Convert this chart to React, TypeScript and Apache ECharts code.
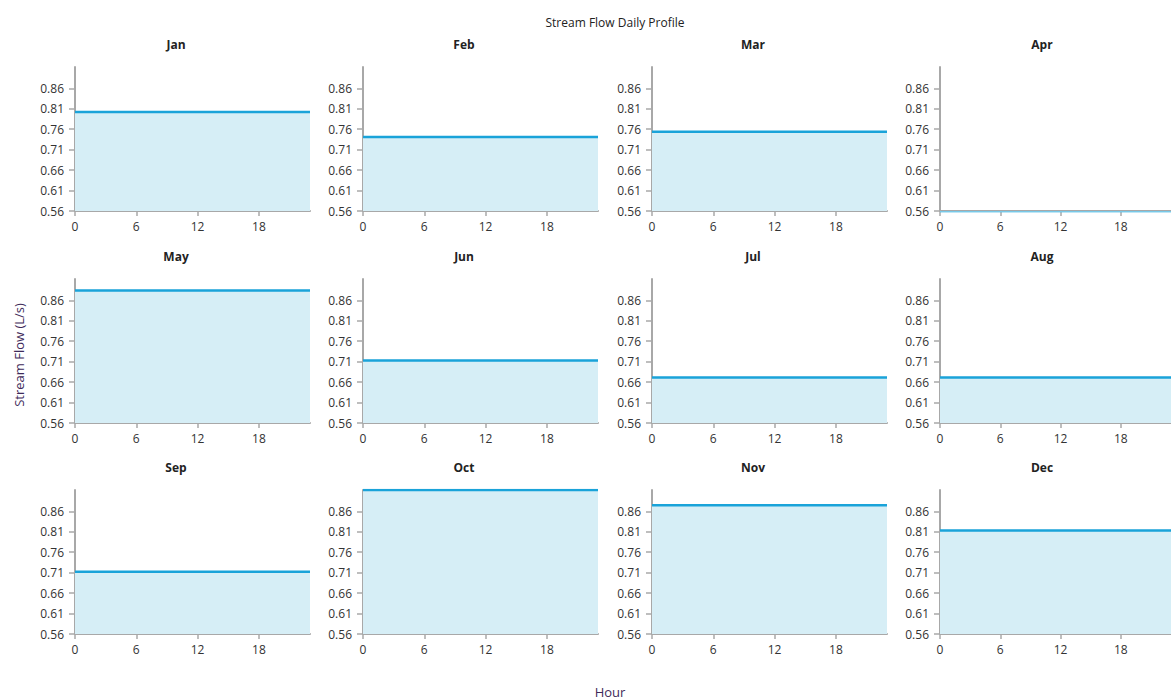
import React, { useEffect, useRef } from "react";
import * as echarts from "echarts";

const months = ["Jan", "Feb", "Mar", "Apr", "May", "Jun", "Jul", "Aug", "Sep", "Oct", "Nov", "Dec"];
const monthlyFlow = [0.802, 0.741, 0.754, 0.556, 0.884, 0.713, 0.671, 0.671, 0.712, 0.912, 0.875, 0.813];
const hours = [0, 1, 2, 3, 4, 5, 6, 7, 8, 9, 10, 11, 12, 13, 14, 15, 16, 17, 18, 19, 20, 21, 22, 23];
const yTicks = [0.56, 0.61, 0.66, 0.71, 0.76, 0.81, 0.86];
const xTicks = [0, 6, 12, 18];
const yMin = 0.56;
const yMax = 0.912;

const FONT = "'Segoe UI', 'Open Sans', 'Noto Sans', sans-serif";
const colLefts = [75, 363, 652, 940];
const rowTops = [67, 279, 490];
const gridW = 235;
const gridH = 144;
const titleCenters = [176, 464, 753, 1042];

export default function App() {
  const ref = useRef<HTMLDivElement>(null);
  useEffect(() => {
    if (!ref.current) return;
    const chart = echarts.init(ref.current, undefined, { renderer: "svg" });
    const grids: any[] = [];
    const xAxes: any[] = [];
    const yAxes: any[] = [];
    const series: any[] = [];
    months.forEach((m, i) => {
      const r = Math.floor(i / 4);
      const c = i % 4;
      grids.push({ left: colLefts[c], top: rowTops[r], width: gridW, height: gridH, containLabel: false });
      xAxes.push({
        type: "value",
        gridIndex: i,
        min: 0,
        max: 23,
        axisLine: { show: true, onZero: false, lineStyle: { color: "#a8a8a8", width: 2 } },
        axisTick: { show: true, length: 5, customValues: xTicks, lineStyle: { color: "#a8a8a8", width: 1.5 } },
        axisLabel: { customValues: xTicks, color: "#333", fontSize: 12, fontFamily: FONT, margin: 9 },
        splitLine: { show: false },
      });
      yAxes.push({
        type: "value",
        gridIndex: i,
        min: yMin,
        max: yMax,
        axisLine: { show: true, lineStyle: { color: "#a8a8a8", width: 2 } },
        axisTick: { show: true, length: 6, customValues: yTicks, lineStyle: { color: "#a8a8a8", width: 1.5 } },
        axisLabel: {
          customValues: yTicks,
          color: "#333",
          fontSize: 12,
          fontFamily: FONT,
          margin: 11,
          formatter: (v: number) => v.toFixed(2),
        },
        splitLine: { show: false },
      });
      series.push({
        type: "line",
        xAxisIndex: i,
        yAxisIndex: i,
        data: hours.map((h) => [h, monthlyFlow[i]]),
        symbol: "none",
        lineStyle: { color: "#1aa3d9", width: 2.5 },
        areaStyle: { color: "#d6eef6", opacity: 1, origin: "start" },
        clip: true,
      });
    });
    chart.setOption({
      animation: false,
      backgroundColor: "#fff",
      title: {
        text: "Stream Flow Daily Profile",
        left: 610,
        top: 11,
        textAlign: "center",
        textStyle: { fontSize: 12, fontWeight: "normal", color: "#222", fontFamily: FONT },
      },
      grid: grids,
      xAxis: xAxes,
      yAxis: yAxes,
      series,
      graphic: [
        ...months.map((m, i) => ({
          type: "text",
          x: titleCenters[i % 4],
          y: rowTops[Math.floor(i / 4)] - 29,
          style: { text: m, font: `bold 12px ${FONT}`, fill: "#222", align: "center" },
        })),
        {
          type: "text",
          x: 19,
          y: 355,
          rotation: Math.PI / 2,
          style: { text: "Stream Flow (L/s)", font: `13px ${FONT}`, fill: "#3e2a5a", align: "center", verticalAlign: "middle" },
        },
        {
          type: "text",
          x: 610,
          y: 692,
          style: { text: "Hour", font: `13px ${FONT}`, fill: "#3e2a5a", align: "center", verticalAlign: "middle" },
        },
      ],
    });
    return () => chart.dispose();
  }, []);
  return <div ref={ref} style={{ position: "fixed", left: 0, top: 0, width: 1171, height: 700 }} />;
}
